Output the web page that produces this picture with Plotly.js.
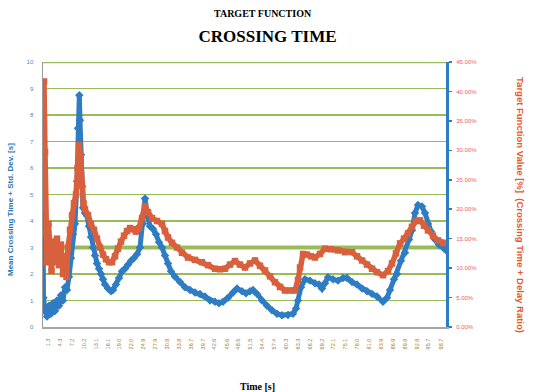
<!DOCTYPE html>
<html>
<head>
<meta charset="utf-8">
<script src="https://cdn.plot.ly/plotly-3.0.1.min.js"></script>
<style>html,body{margin:0;padding:0;background:#fff;}#chart{width:535px;height:392px;}</style>
</head>
<body>
<div id="chart"></div>
<script>
// ---- data ----
const blueTime = [0.0,0.12,0.50,0.99,1.49,1.99,2.48,2.98,3.47,3.97,4.47,4.96,5.46,5.96,6.45,6.95,7.44,7.94,8.44,8.68,9.01,9.18,9.43,9.68,9.93,10.42,10.92,11.41,11.91,12.41,12.90,13.40,13.90,14.39,14.89,15.38,16.13,16.87,17.37,18.11,18.86,19.60,20.35,21.09,21.84,22.58,23.33,24.07,24.81,25.31,25.81,26.55,27.30,28.04,28.78,29.53,30.27,31.02,31.76,32.75,34.00,35.24,36.48,37.72,38.96,40.20,41.44,42.68,43.67,44.67,45.91,47.15,48.14,49.38,50.37,51.36,52.11,53.10,54.34,55.58,56.82,58.06,59.31,60.79,62.03,62.78,63.28,64.02,65.01,66.25,67.49,68.49,69.23,69.98,70.72,71.96,73.20,74.44,75.43,76.67,77.92,79.16,80.40,81.64,82.88,84.37,85.36,86.10,87.10,87.84,88.83,89.83,90.82,91.56,92.31,93.05,94.04,94.79,95.53,96.28,97.27,98.26,99.26,100.0];
const blueValues = [4.6,1.1,0.6,0.4,0.8,0.5,0.9,0.6,1.0,0.8,1.2,1.0,1.5,1.4,1.9,2.6,3.5,3.9,5.5,7.5,8.75,7.8,6.5,5.3,4.5,4.3,4.2,3.8,3.4,3.0,2.7,2.4,2.2,2.0,1.8,1.6,1.45,1.35,1.4,1.6,1.85,2.1,2.2,2.35,2.5,2.6,2.75,3.0,3.9,4.85,4.3,3.8,3.7,3.5,3.2,3.0,2.7,2.4,2.1,1.9,1.7,1.5,1.4,1.3,1.25,1.15,1.0,0.95,0.9,0.95,1.1,1.3,1.45,1.35,1.27,1.35,1.4,1.25,1.0,0.8,0.63,0.5,0.44,0.45,0.5,0.7,1.0,1.5,1.8,1.75,1.65,1.6,1.45,1.65,1.88,1.8,1.75,1.85,1.85,1.7,1.6,1.45,1.35,1.25,1.15,0.95,1.1,1.4,1.8,2.0,2.5,2.8,3.3,3.65,4.3,4.6,4.55,4.3,3.9,3.6,3.3,3.1,3.0,2.9];

const orangeTime = [0,0.25,0.5,0.74,0.99,1.36,1.74,2.11,2.48,2.98,3.47,3.97,4.47,4.96,5.46,5.83,6.20,6.70,7.20,7.69,8.19,8.56,8.93,9.31,9.68,10.05,10.42,11.17,11.91,12.66,13.40,14.14,14.89,15.63,16.38,17.12,17.87,18.61,19.35,20.10,20.84,21.59,22.33,23.08,23.82,24.57,25.31,26.05,27.05,28.29,29.53,30.27,31.02,32.01,33.25,34.49,35.98,37.72,39.45,40.94,42.68,43.92,45.16,46.40,47.64,48.88,50.12,51.36,52.61,53.85,55.09,56.33,57.57,58.81,60.05,61.29,62.53,63.28,63.77,64.52,65.51,66.50,67.49,68.73,69.98,71.46,73.20,74.94,76.67,77.92,79.16,80.40,81.64,82.88,84.37,85.61,86.60,87.59,88.59,89.58,90.57,91.56,92.56,93.55,94.54,95.53,96.77,98.01,99.26,100];
const orangeValues = [20.5,41.7,29.7,16.0,11.0,17.5,12.0,9.5,14.5,11.0,15.0,10.5,14.0,9.0,12.0,8.5,13.5,16.5,19.0,21.0,22.5,27.0,30.9,29.0,24.0,21.0,20.0,19.0,17.5,16.5,15.0,13.5,12.3,11.5,11.0,11.0,12.0,13.3,14.5,15.5,16.3,16.8,16.6,16.2,16.8,18.5,20.5,19.5,18.5,18.0,17.5,16.3,15.2,14.3,13.5,12.6,11.8,11.4,11.0,10.5,9.9,9.8,9.9,10.6,11.2,10.6,10.1,10.8,11.3,10.4,9.6,8.6,7.6,6.8,6.2,6.2,6.2,8.0,10.1,12.4,12.3,12.0,11.8,12.4,13.3,13.2,13.0,12.7,12.7,12.0,11.3,10.6,9.9,9.3,8.8,9.5,10.8,12.5,14.2,15.0,15.9,17.0,18.0,18.1,17.2,16.4,15.5,14.7,14.3,14.2];

const thresholdTime = [0, 100];
const thresholdValues = [3, 3];

const xTickVals = [1.3,4.3,7.2,10.2,13.1,16.1,19.0,22.0,24.9,27.9,30.8,33.8,36.7,39.7,42.6,45.6,48.5,51.5,54.4,57.4,60.3,63.3,66.2,69.2,72.1,75.1,78.0,81.0,83.9,86.9,89.8,92.8,95.7,98.7];
const xTickText = ["1.3","4.3","7.2","10.2","13.1","16.1","19.0","22.0","24.9","27.9","30.8","33.8","36.7","39.7","42.6","45.6","48.5","51.5","54.4","57.4","60.3","63.3","66.2","69.2","72.1","75.1","78.0","81.0","83.9","86.9","89.8","92.8","95.7","98.7"];
const leftTickVals = [0,1,2,3,4,5,6,7,8,9,10];
const leftTickText = ["0","1","2","3","4","5","6","7","8","9","10"];
const rightTickVals = [0,5,10,15,20,25,30,35,40,45];
const rightTickText = ["0.00%","5.00%","10.00%","15.00%","20.00%","25.00%","30.00%","35.00%","40.00%","45.00%"];

const BLUE = "#2e7cc2", ORANGE = "#d8603c", GREEN = "#9bbb59";

const traces = [
  {x: thresholdTime, y: thresholdValues, type: "scatter", mode: "lines",
   line: {color: GREEN, width: 4}, yaxis: "y", showlegend: false, hoverinfo: "skip"},
  {x: blueTime, y: blueValues, type: "scatter", mode: "lines+markers", name: "Crossing time",
   line: {color: BLUE, width: 5}, marker: {color: BLUE, size: 6.5, symbol: "diamond"}, yaxis: "y"},
  {x: orangeTime, y: orangeValues, type: "scatter", mode: "lines+markers", name: "Target function",
   line: {color: ORANGE, width: 5.5}, marker: {color: ORANGE, size: 6.5, symbol: "square"}, yaxis: "y2"}
];

const layout = {
  width: 535, height: 392,
  margin: {l: 43, r: 89, t: 62, b: 65, pad: 0},
  paper_bgcolor: "#ffffff", plot_bgcolor: "#ffffff",
  showlegend: false,
  title: {text: "<b>CROSSING TIME</b>", x: 0.5, xref: "container", y: 1 - 36/392, yref: "container",
          xanchor: "center", yanchor: "middle",
          font: {family: "Liberation Serif, serif", size: 17, color: "#000"}},
  xaxis: {range: [0, 100], showgrid: false, zeroline: false,
          showline: true, linecolor: "#a6a6a6", linewidth: 1.5,
          tickmode: "array", tickvals: xTickVals, ticktext: xTickText,
          tickangle: -90, ticks: "", ticklabelstandoff: 8,
          tickfont: {family: "Liberation Sans, sans-serif", size: 5.5, color: "#9a7f3c"}},
  yaxis: {range: [0, 10], tickmode: "array", tickvals: leftTickVals, ticktext: leftTickText,
          showgrid: true, gridcolor: GREEN, gridwidth: 1.5, zeroline: false,
          showline: true, linecolor: "#9a9a9a", linewidth: 1.5, ticks: "",
          ticklabelstandoff: 7,
          tickfont: {family: "Liberation Sans, sans-serif", size: 6, color: "#4a86c8"}},
  yaxis2: {range: [0, 45], overlaying: "y", side: "right",
           tickmode: "array", tickvals: rightTickVals, ticktext: rightTickText,
           showgrid: false, zeroline: false,
           showline: true, linecolor: BLUE, linewidth: 3,
           ticks: "outside", ticklen: 3, tickwidth: 1.5, tickcolor: BLUE,
           ticklabelstandoff: 3,
           tickfont: {family: "Liberation Sans, sans-serif", size: 6, color: "#f0605a"}},
  shapes: [
    {type: "line", xref: "paper", yref: "y", x0: 0, x1: 1, y0: 10, y1: 10,
     line: {color: GREEN, width: 2.5}}
  ],
  annotations: [
    {text: "<b>TARGET FUNCTION</b>", xref: "paper", yref: "paper", x: (263-43)/403, y: (327-13)/265,
     xanchor: "center", yanchor: "middle", showarrow: false,
     font: {family: "Liberation Serif, serif", size: 10, color: "#000"}},
    {text: "<b>Time [s]</b>", xref: "paper", yref: "paper", x: (257-43)/403, y: (327-386)/265,
     xanchor: "center", yanchor: "middle", showarrow: false,
     font: {family: "Liberation Serif, serif", size: 10, color: "#000"}},
    {text: "<b>Mean Crossing Time + Std. Dev. [s]</b>", xref: "paper", yref: "paper",
     x: (10-43)/403, y: (327-210)/265, textangle: -90,
     xanchor: "center", yanchor: "middle", showarrow: false,
     font: {family: "Liberation Sans, sans-serif", size: 8, color: "#2e75b6"}},
    {text: "<b>Target Function Value [%]  (Crossing Time + Delay Ratio)</b>", xref: "paper", yref: "paper",
     x: (521-43)/403, y: (327-205)/265, textangle: 90,
     xanchor: "center", yanchor: "middle", showarrow: false,
     font: {family: "Liberation Sans, sans-serif", size: 9.5, color: "#e8572a"}}
  ]
};

Plotly.newPlot("chart", traces, layout, {staticPlot: true, displayModeBar: false});
</script>
</body>
</html>
